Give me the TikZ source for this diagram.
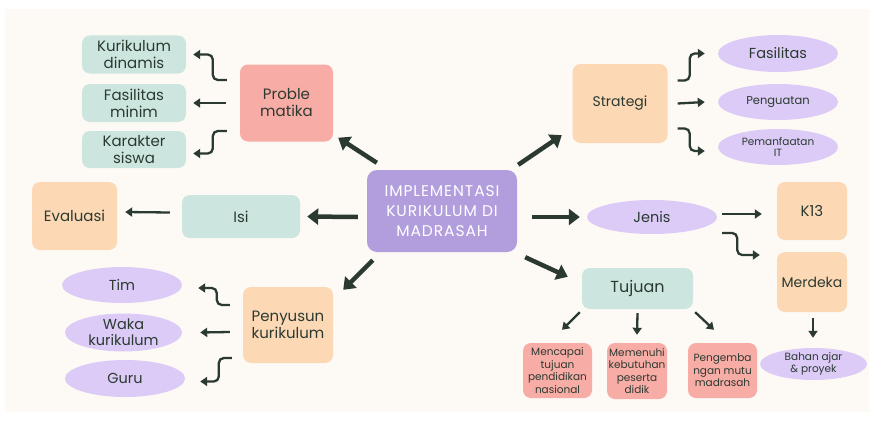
\documentclass[tikz,border=0pt]{standalone}
\usepackage{fontspec}
\setmainfont{Poppins}
\usetikzlibrary{arrows.meta,calc,shapes.geometric}
\definecolor{bgc}{HTML}{FDF9F5}
\definecolor{mint}{HTML}{CCE6DF}
\definecolor{pinkc}{HTML}{F8ACA6}
\definecolor{peach}{HTML}{FDD8B5}
\definecolor{lav}{HTML}{DCCBF7}
\definecolor{purp}{HTML}{B29DDD}
\definecolor{ink}{HTML}{2B3A31}
\tikzset{
  box/.style={rounded corners=8pt, inner sep=0pt, align=center, text=ink, font=\fontsize{15}{17}\selectfont},
  mintbox/.style={box, fill=mint},
  pinkbox/.style={box, fill=pinkc},
  peachbox/.style={box, fill=peach},
  smallpink/.style={box, fill=pinkc, font=\fontsize{10.5}{12.5}\selectfont},
  oval/.style={ellipse, fill=lav, inner sep=0pt, align=center, text=ink, font=\fontsize{14.5}{16}\selectfont},
  smalloval/.style={oval, font=\fontsize{10.5}{11.5}\selectfont},
  tarr/.style={draw=ink, line width=2.3pt, rounded corners=5pt, -{Triangle[length=7pt,width=9pt]}},
  barr/.style={draw=ink, line width=4.5pt, -{Triangle[length=11pt,width=16pt]}},
}
\begin{document}
\begin{tikzpicture}[x=1pt,y=-1pt]
\useasboundingbox (0,0) rectangle (869,420);
\fill[white] (0,0) rectangle (869,420);
\fill[bgc] (5,9) rectangle (869,412);

% left top cluster
\node[mintbox, minimum width=104pt, minimum height=38pt] (kd) at (134,54.5) {Kurikulum\\dinamis};
\node[mintbox, minimum width=104pt, minimum height=38pt] (fm) at (134,103) {Fasilitas\\minim};
\node[mintbox, minimum width=104pt, minimum height=37pt] (ks) at (134,149.5) {Karakter\\siswa};
\node[pinkbox, minimum width=93pt, minimum height=77pt] (prob) at (286.5,103) {Proble\\matika};

% center
\node[rounded corners=10pt, fill=purp, text=white, inner sep=0pt, align=center,
      minimum width=150pt, minimum height=82pt,
      font=\fontsize{15.5}{20}\selectfont\addfontfeatures{LetterSpace=6}] (imp) at (442,211)
      {IMPLEMENTASI\\KURIKULUM DI\\MADRASAH};

% strategi cluster
\node[peachbox, minimum width=95pt, minimum height=79pt, font=\fontsize{14}{17}\selectfont] (strat) at (620,103.5) {Strategi};
\node[oval, minimum width=120pt, minimum height=37pt] (fas) at (778,53.5) {Fasilitas};
\node[oval, minimum width=120pt, minimum height=36pt, font=\fontsize{11.5}{13}\selectfont] (peng) at (778,102) {Penguatan};
\node[smalloval, minimum width=120pt, minimum height=36pt] (pit) at (778,147) {Pemanfaatan\\IT};

% isi / evaluasi
\node[mintbox, minimum width=118pt, minimum height=43pt] (isi) at (241,216.5) {Isi};
\node[peachbox, minimum width=85pt, minimum height=68pt] (eval) at (74.5,216) {Evaluasi};

% penyusun cluster
\node[peachbox, minimum width=90pt, minimum height=76pt] (pen) at (288,325) {Penyusun\\kurikulum};
\node[oval, minimum width=120pt, minimum height=36pt] (tim) at (122,285) {Tim};
\node[oval, minimum width=117pt, minimum height=35pt] (waka) at (123.5,332.5) {Waka\\kurikulum};
\node[oval, minimum width=120pt, minimum height=37pt] (guru) at (125,378.5) {Guru};

% jenis cluster
\node[oval, minimum width=130pt, minimum height=34pt] (jenis) at (652,217) {Jenis};
\node[peachbox, minimum width=70pt, minimum height=58pt] (k13) at (812,211) {K13};
\node[peachbox, minimum width=70pt, minimum height=60pt, font=\fontsize{14}{17}\selectfont] (merd) at (812,282) {Merdeka};
\node[smalloval, minimum width=107pt, minimum height=32pt] (bahan) at (813.5,364) {Bahan ajar\\\& proyek};

% tujuan cluster
\node[mintbox, minimum width=111pt, minimum height=41pt, font=\fontsize{16}{17}\selectfont] (tuj) at (637.5,288.5) {Tujuan};
\node[smallpink, minimum width=69pt, minimum height=55pt] (menc) at (557.5,370.5) {Mencapai\\tujuan\\pendidikan\\nasional};
\node[smallpink, minimum width=60pt, minimum height=56pt] (meme) at (637,371) {Memenuhi\\kebutuhan\\peserta\\didik};
\node[smallpink, minimum width=69pt, minimum height=55pt] (pgb) at (722.5,370.5) {Pengemba\\ngan mutu\\madrasah};

% thick arrows from center
\draw[barr] ($(imp.north west)+(10,-7)$) -- ($(prob.south east)+(5,-4)$);
\draw[barr] ($(imp.north east)+(1,-5)$) -- ($(strat.south west)+(-10.5,-8)$);
\draw[barr] ($(imp.west)+(-9,6)$) -- ($(isi.east)+(7,0)$);
\draw[barr] ($(imp.east)+(15,6)$) -- ($(jenis.west)+(-7,0)$);
\draw[barr] ($(imp.south west)+(6,8)$) -- ($(pen.north east)+(10,3)$);
\draw[barr] ($(imp.south east)+(8,5)$) -- ($(tuj.north west)+(-14,9)$);

% problematika arrows
\draw[tarr] ($(prob.west)+(-13,-23)$) -- ++(-14,0) |- ($(kd.east)+(7,0)$);
\draw[tarr] ($(prob.west)+(-14,0)$) -- ($(fm.east)+(7,0)$);
\draw[tarr] ($(prob.west)+(-13,28)$) -- ++(-14,0) |- ($(ks.east)+(7,4)$);

% strategi arrows
\draw[tarr] ($(strat.east)+(10,-23)$) -- ++(12,0) |- ($(fas.west)+(-13,0)$);
\draw[tarr] ($(strat.east)+(10,0)$) -- ($(peng.west)+(-13,0)$);
\draw[tarr] ($(strat.east)+(10,25)$) -- ++(12,0) |- ($(pit.west)+(-13,4)$);

% isi -> evaluasi
\draw[tarr] ($(isi.west)+(-12,-4)$) -- ($(eval.east)+(8,-4)$);

% penyusun arrows
\draw[tarr] ($(pen.west)+(-13,-20)$) -- ++(-13,0) |- ($(tim.east)+(16,3)$);
\draw[tarr] ($(pen.west)+(-13,7)$) -- ($(waka.east)+(18,0)$);
\draw[tarr] ($(pen.west)+(-11,33)$) -- ++(-13,0) |- ($(guru.east)+(15,3)$);

% jenis arrows
\draw[tarr] ($(jenis.east)+(5,-3)$) -- ($(k13.west)+(-15,3)$);
\draw[tarr] ($(jenis.east)+(5,16)$) -- ++(15,0) |- ($(merd.west)+(-17,-27)$);
\draw[tarr] ($(merd.south)+(1,6)$) -- ($(bahan.north)+(-0.5,-10)$);

% tujuan arrows
\draw[tarr] ($(tuj.south west)+(-2,3)$) -- ($(menc.north)+(4.5,-13)$);
\draw[tarr] ($(tuj.south)+(0,4)$) -- ($(meme.north)+(0,-8)$);
\draw[tarr] ($(tuj.south east)+(2,3)$) -- ($(pgb.north)+(-8.5,-13)$);
\end{tikzpicture}
\end{document}
